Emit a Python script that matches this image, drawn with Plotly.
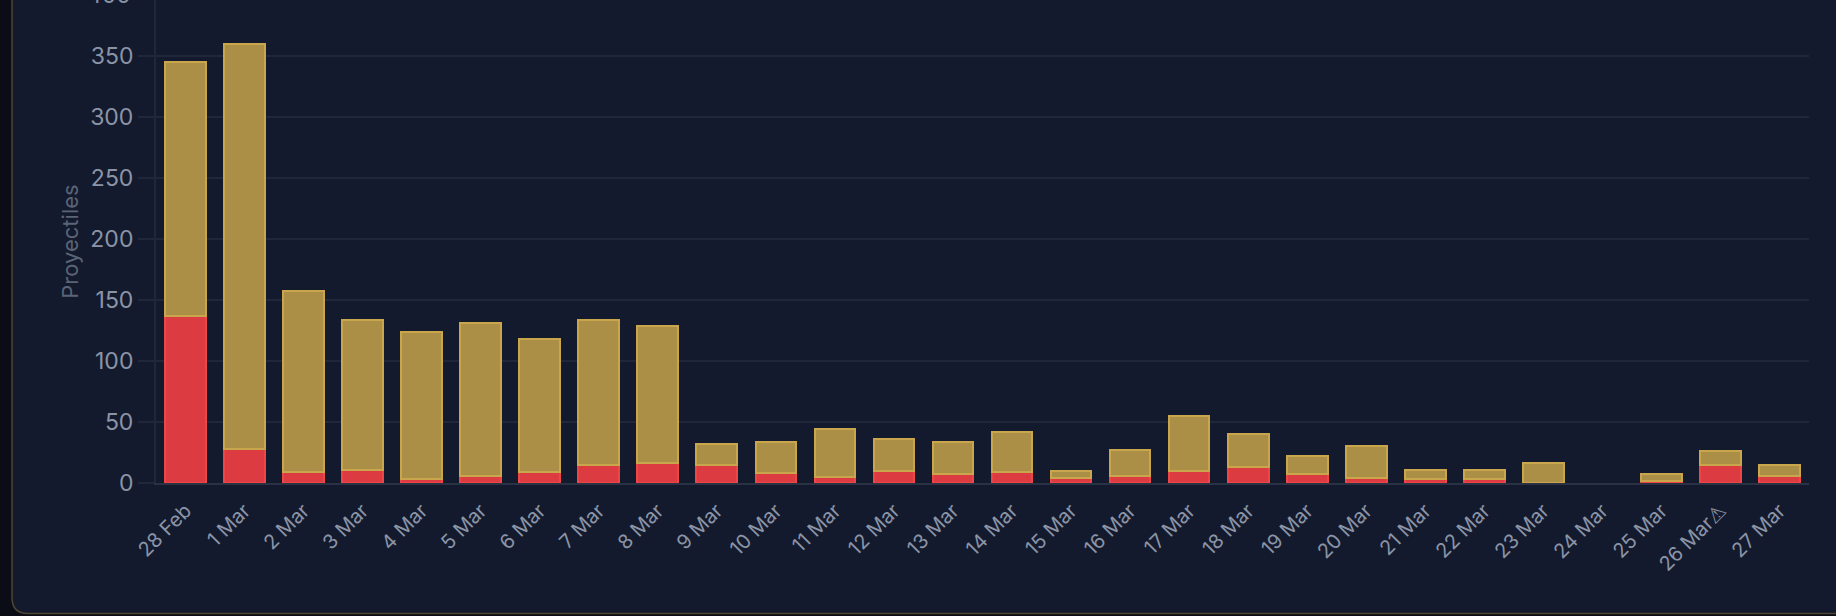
import plotly.graph_objects as go

categories = ["28 Feb", "1 Mar", "2 Mar", "3 Mar", "4 Mar", "5 Mar", "6 Mar", "7 Mar",
              "8 Mar", "9 Mar", "10 Mar", "11 Mar", "12 Mar", "13 Mar", "14 Mar",
              "15 Mar", "16 Mar", "17 Mar", "18 Mar", "19 Mar", "20 Mar", "21 Mar",
              "22 Mar", "23 Mar", "24 Mar", "25 Mar", "26 Mar\u26a0", "27 Mar"]
totals = [345, 360, 157, 134, 124, 131, 118, 134, 129, 32, 34, 44, 36, 34, 42,
          10, 27, 55, 40, 22, 30, 11, 11, 16, 0, 7, 26, 15]
red_values = [137, 28, 9, 11, 3, 6, 9, 15, 16, 15, 8, 5, 10, 7, 9,
              4, 6, 10, 13, 7, 4, 3, 3, 0, 0, 2, 15, 6]
gold_values = [t - r for t, r in zip(totals, red_values)]
y_ticks = [0, 50, 100, 150, 200, 250, 300, 350, 400]

W, H = 1836, 616
L, R, T, B = 156, 27, 0, 133
pw, ph = W - L - R, H - T - B
px_per_unit = 1.22
y_top = ph / px_per_unit

def xp(px):
    return (px - L) / pw

def yp(py):
    return (H - B - py) / ph

GRID = "#20273a"
TICK = "#8b94a6"

tick_text = [c.replace("\u26a0", "<span style='font-family:DejaVu Sans'>\u26a0</span>")
             for c in categories]

fig = go.Figure()
fig.add_trace(go.Bar(
    x=categories, y=red_values, name="Impactos",
    marker=dict(color="#dc3b41",
                line=dict(color="#f04545", width=[2 if v else 0 for v in red_values])),
))
fig.add_trace(go.Bar(
    x=categories, y=gold_values, name="Interceptados",
    marker=dict(color="#ab8f46",
                line=dict(color="#c9a54b", width=[2 if v else 0 for v in gold_values])),
))

card_path = (f"M {xp(12)},{yp(-30)} L {xp(12)},{yp(597.5)} "
             f"Q {xp(12)},{yp(613.5)} {xp(28)},{yp(613.5)} "
             f"L {xp(1880)},{yp(613.5)} L {xp(1880)},{yp(-30)} Z")

fig.update_layout(
    width=W, height=H,
    margin=dict(l=L, r=R, t=T, b=B, pad=0),
    barmode="stack",
    bargap=0.31,
    showlegend=False,
    paper_bgcolor="#0a0d16",
    plot_bgcolor="rgba(0,0,0,0)",
    font=dict(family="Inter, Noto Sans, sans-serif", color=TICK),
    shapes=[dict(type="path", xref="paper", yref="paper", path=card_path,
                 fillcolor="#131a2d", line=dict(color="#4f4633", width=1.5),
                 layer="below")],
    annotations=[dict(text="400", xref="paper", yref="paper", x=0, y=1,
                      xanchor="right", yanchor="middle", xshift=-23, yshift=5,
                      showarrow=False, font=dict(size=23, color=TICK))],
    xaxis=dict(
        tickangle=-45, tickfont=dict(size=20, color=TICK),
        tickmode="array", tickvals=categories, ticktext=tick_text,
        showgrid=False, showline=True, linecolor="#2a3142", linewidth=2,
        ticks="", ticklabelstandoff=6, fixedrange=True,
    ),
    yaxis=dict(
        range=[0, y_top], tickvals=y_ticks, tickfont=dict(size=23, color=TICK),
        showgrid=True, gridcolor=GRID, gridwidth=2,
        showline=True, linecolor=GRID, linewidth=2,
        ticks="outside", ticklen=16, tickcolor=GRID, tickwidth=2,
        ticklabelstandoff=0, zeroline=False, fixedrange=True,
        title=dict(text="Proyectiles", font=dict(size=22, color="#5b6477"), standoff=5),
    ),
)

fig.write_html(
    "out.html",
    config={"displayModeBar": False},
    post_script="document.body.style.margin='0';document.body.style.background='#0a0d16';",
)
